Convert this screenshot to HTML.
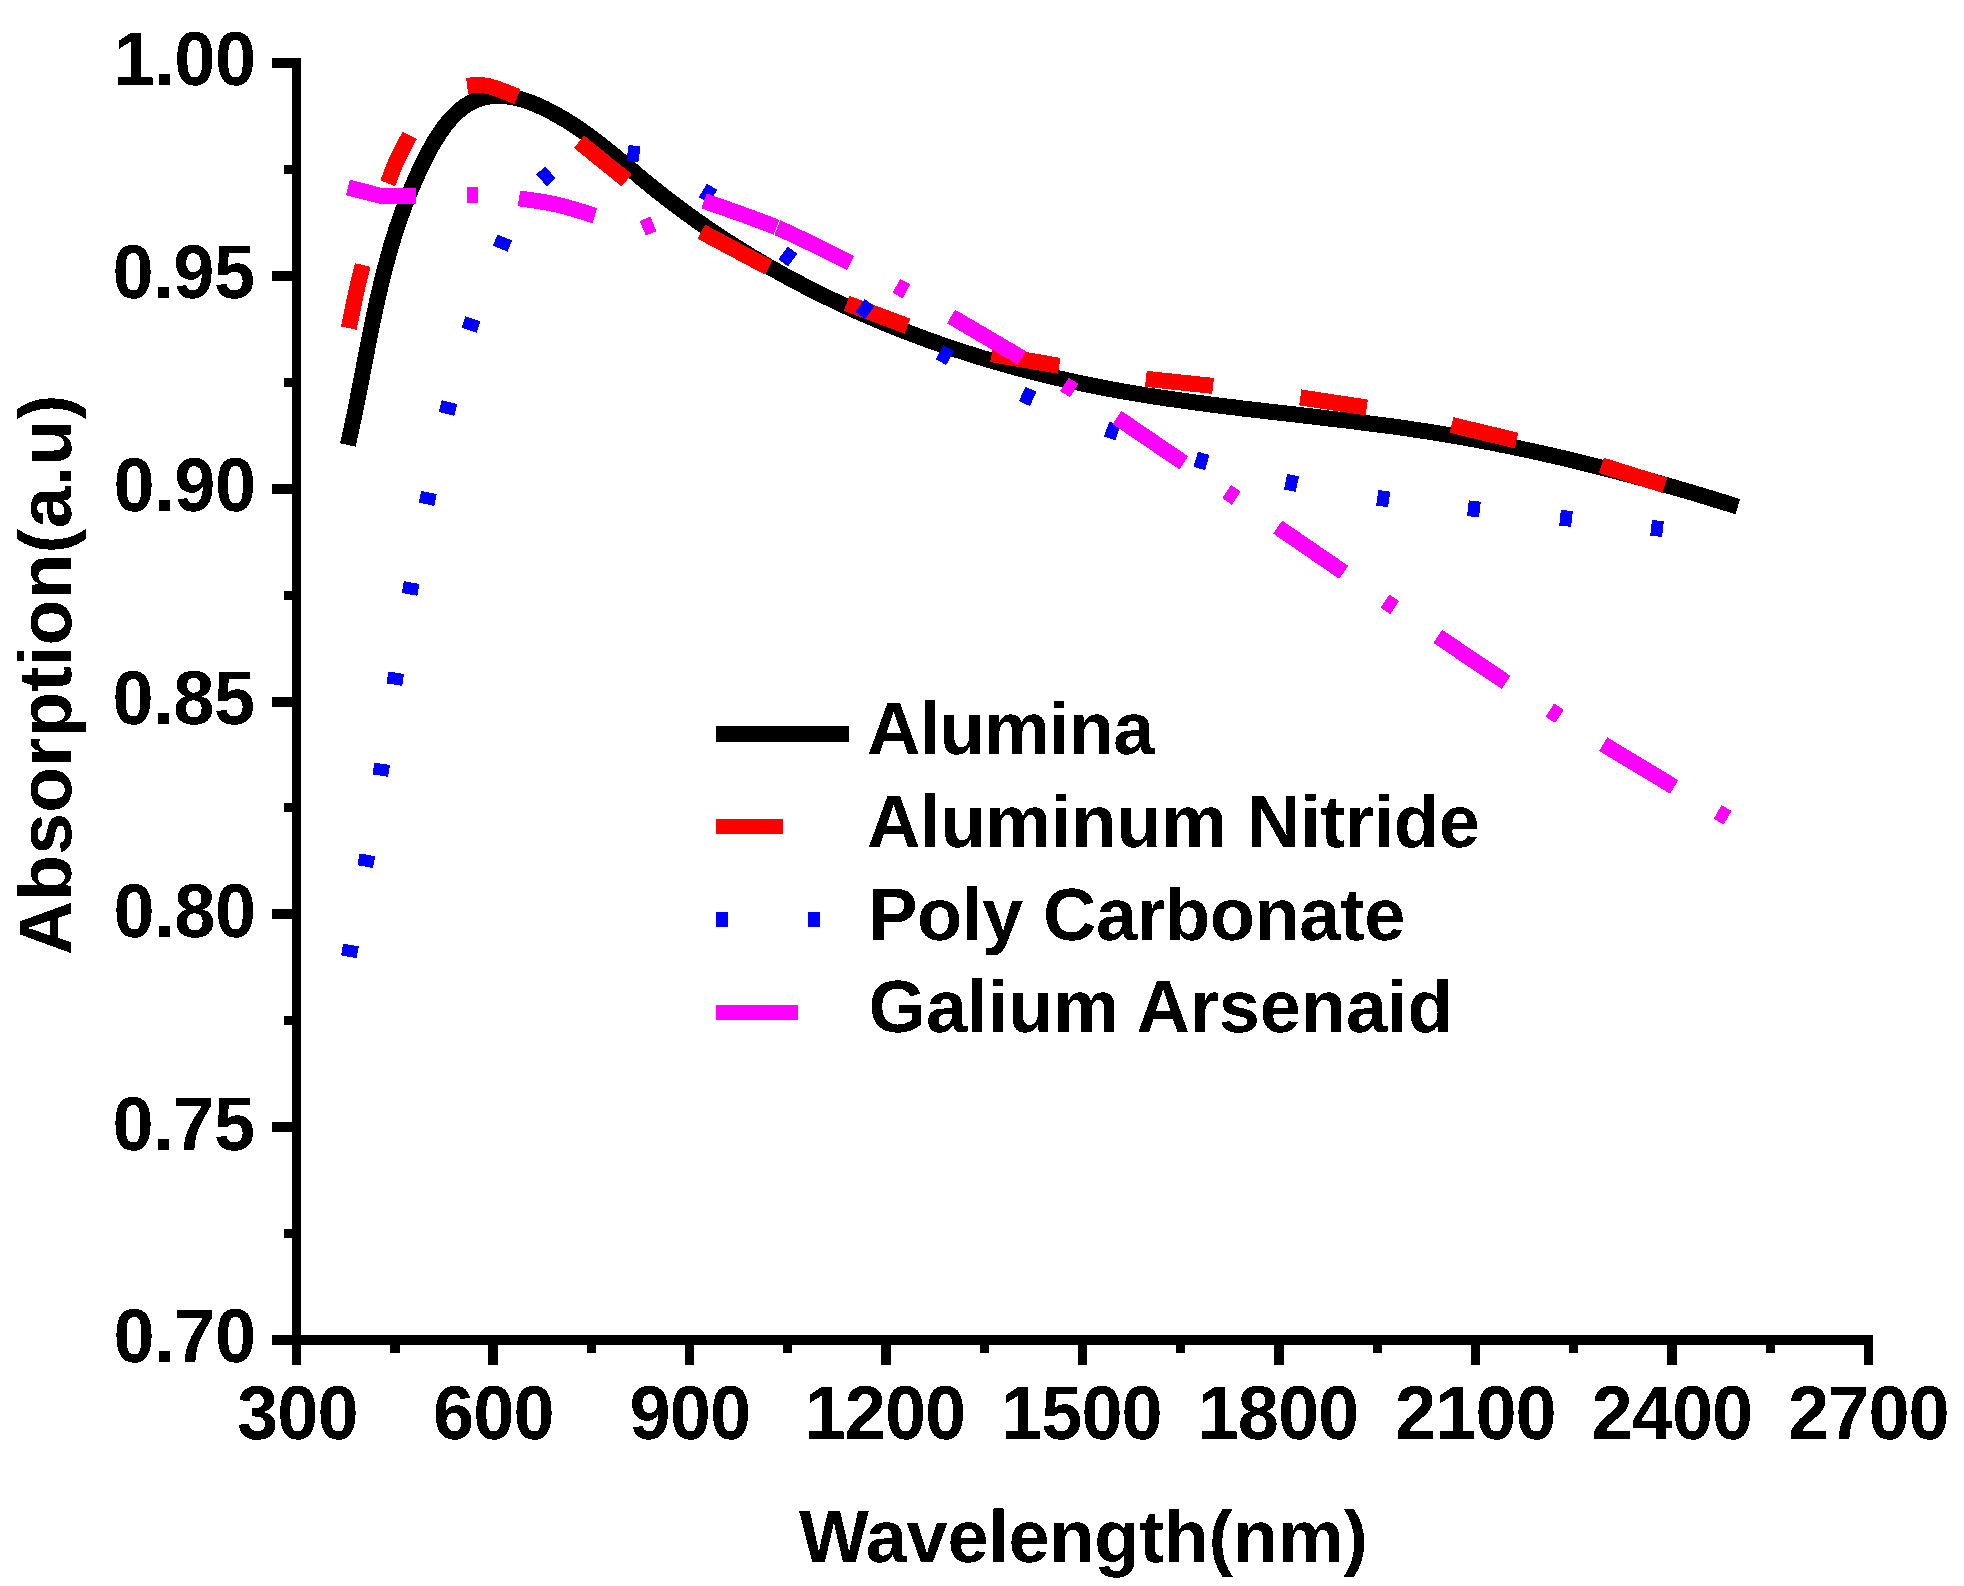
<!DOCTYPE html>
<html lang="en">
<head>
<meta charset="utf-8">
<title>Absorption vs Wavelength</title>
<style>
html,body{margin:0;padding:0;background:#fff;}
body{width:1964px;height:1586px;overflow:hidden;}
svg{display:block;}
text{fill:#000;}
</style>
</head>
<body>
<svg width="1964" height="1586" viewBox="0 0 1964 1586" shape-rendering="crispEdges" text-rendering="geometricPrecision">
<defs>
<filter id="crisp" x="-5%" y="-5%" width="110%" height="110%" color-interpolation-filters="sRGB">
<feComponentTransfer><feFuncA type="discrete" tableValues="0 1"/></feComponentTransfer>
</filter>
</defs>
<rect x="0" y="0" width="1964" height="1586" fill="#fff"/>
<rect x="292.0" y="58.0" width="9.0" height="1307.0" fill="#000"/>
<rect x="272.0" y="1335.0" width="1601.0" height="10.0" fill="#000"/>
<rect x="272.0" y="58.0" width="20.5" height="10.0" fill="#000"/>
<rect x="284.0" y="164.9" width="8.5" height="9.0" fill="#000"/>
<rect x="272.0" y="270.8" width="20.5" height="10.0" fill="#000"/>
<rect x="284.0" y="377.7" width="8.5" height="9.0" fill="#000"/>
<rect x="272.0" y="483.7" width="20.5" height="10.0" fill="#000"/>
<rect x="284.0" y="590.6" width="8.5" height="9.0" fill="#000"/>
<rect x="272.0" y="696.5" width="20.5" height="10.0" fill="#000"/>
<rect x="284.0" y="803.4" width="8.5" height="9.0" fill="#000"/>
<rect x="272.0" y="909.3" width="20.5" height="10.0" fill="#000"/>
<rect x="284.0" y="1016.2" width="8.5" height="9.0" fill="#000"/>
<rect x="272.0" y="1122.2" width="20.5" height="10.0" fill="#000"/>
<rect x="284.0" y="1229.1" width="8.5" height="9.0" fill="#000"/>
<rect x="272.0" y="1335.0" width="20.5" height="10.0" fill="#000"/>
<rect x="291.8" y="1344.0" width="9.4" height="21.0" fill="#000"/>
<rect x="390.1" y="1344.0" width="9.4" height="9.0" fill="#000"/>
<rect x="488.3" y="1344.0" width="9.4" height="21.0" fill="#000"/>
<rect x="586.5" y="1344.0" width="9.4" height="9.0" fill="#000"/>
<rect x="684.8" y="1344.0" width="9.4" height="21.0" fill="#000"/>
<rect x="783.0" y="1344.0" width="9.4" height="9.0" fill="#000"/>
<rect x="881.3" y="1344.0" width="9.4" height="21.0" fill="#000"/>
<rect x="979.5" y="1344.0" width="9.4" height="9.0" fill="#000"/>
<rect x="1077.8" y="1344.0" width="9.4" height="21.0" fill="#000"/>
<rect x="1176.0" y="1344.0" width="9.4" height="9.0" fill="#000"/>
<rect x="1274.3" y="1344.0" width="9.4" height="21.0" fill="#000"/>
<rect x="1372.5" y="1344.0" width="9.4" height="9.0" fill="#000"/>
<rect x="1470.8" y="1344.0" width="9.4" height="21.0" fill="#000"/>
<rect x="1569.0" y="1344.0" width="9.4" height="9.0" fill="#000"/>
<rect x="1667.3" y="1344.0" width="9.4" height="21.0" fill="#000"/>
<rect x="1765.5" y="1344.0" width="9.4" height="9.0" fill="#000"/>
<rect x="1863.8" y="1344.0" width="9.4" height="21.0" fill="#000"/>
<path d="M347.9,445.0 L349.6,437.1 L351.4,429.2 L353.0,421.3 L354.7,413.5 L356.3,405.6 L357.8,397.8 L359.3,390.0 L360.9,382.3 L362.3,374.5 L363.8,366.8 L365.3,359.0 L366.8,351.3 L368.3,343.6 L369.8,336.0 L371.4,328.3 L372.9,320.7 L374.5,313.0 L376.2,305.4 L377.8,297.8 L379.6,290.3 L381.4,282.7 L383.2,275.1 L385.2,267.6 L387.2,260.1 L389.3,252.5 L391.4,245.0 L393.7,237.5 L396.1,230.0 L398.6,222.6 L401.2,215.1 L403.9,207.7 L406.7,200.2 L409.7,192.8 L412.8,185.3 L416.0,177.9 L419.4,170.5 L422.9,163.1 L426.6,155.7 L430.5,148.4 L434.6,141.2 L439.0,134.3 L443.5,127.7 L448.4,121.5 L453.6,115.7 L459.1,110.6 L464.9,106.1 L471.2,102.3 L477.8,99.4 L484.7,97.3 L491.9,96.1 L499.3,95.7 L506.7,96.3 L514.3,97.6 L521.9,99.5 L529.5,102.0 L537.0,105.0 L544.4,108.4 L551.7,112.1 L558.7,116.0 L565.7,120.0 L572.4,124.3 L579.1,128.7 L585.6,133.3 L592.0,137.9 L598.3,142.7 L604.5,147.6 L610.7,152.6 L616.8,157.6 L622.9,162.7 L628.9,167.7 L635.0,172.8 L641.0,177.9 L647.1,182.9 L653.2,187.9 L659.4,192.8 L665.6,197.7 L671.9,202.5 L678.2,207.2 L684.5,211.9 L690.9,216.5 L697.3,221.1 L703.8,225.6 L710.3,230.1 L716.8,234.5 L723.4,238.8 L730.0,243.1 L736.7,247.3 L743.4,251.5 L750.1,255.6 L756.8,259.6 L763.6,263.6 L770.5,267.6 L777.3,271.4 L784.2,275.3 L791.2,279.0 L798.1,282.7 L805.1,286.4 L812.2,290.0 L819.2,293.5 L826.3,297.0 L833.4,300.4 L840.5,303.8 L847.7,307.1 L854.9,310.4 L862.1,313.6 L869.4,316.7 L876.7,319.8 L884.0,322.9 L891.3,325.9 L898.6,328.8 L906.0,331.7 L913.4,334.5 L920.8,337.3 L928.2,340.0 L935.7,342.6 L943.1,345.2 L950.6,347.8 L958.1,350.3 L965.7,352.7 L973.2,355.1 L980.8,357.5 L988.3,359.8 L995.9,362.0 L1003.5,364.2 L1011.2,366.3 L1018.8,368.4 L1026.4,370.4 L1034.1,372.4 L1041.8,374.3 L1049.4,376.2 L1057.1,378.0 L1064.8,379.7 L1072.6,381.5 L1080.3,383.1 L1088.0,384.7 L1095.7,386.3 L1103.5,387.8 L1111.2,389.3 L1119.0,390.7 L1126.7,392.0 L1134.5,393.4 L1142.3,394.6 L1150.0,395.9 L1157.8,397.1 L1165.6,398.3 L1173.4,399.4 L1181.2,400.5 L1189.0,401.6 L1196.8,402.7 L1204.6,403.7 L1212.4,404.7 L1220.2,405.7 L1228.0,406.7 L1235.9,407.6 L1243.7,408.6 L1251.5,409.5 L1259.3,410.4 L1267.1,411.3 L1275.0,412.2 L1282.8,413.1 L1290.6,414.0 L1298.5,414.9 L1306.3,415.8 L1314.1,416.7 L1321.9,417.7 L1329.8,418.6 L1337.6,419.5 L1345.4,420.4 L1353.2,421.4 L1361.1,422.4 L1368.9,423.4 L1376.7,424.4 L1384.5,425.4 L1392.3,426.4 L1400.1,427.5 L1407.9,428.6 L1415.7,429.8 L1423.5,430.9 L1431.3,432.1 L1439.1,433.4 L1446.9,434.7 L1454.7,436.0 L1462.5,437.3 L1470.2,438.7 L1478.0,440.2 L1485.7,441.6 L1493.5,443.1 L1501.2,444.7 L1509.0,446.2 L1516.7,447.8 L1524.5,449.5 L1532.2,451.1 L1539.9,452.8 L1547.6,454.6 L1555.3,456.3 L1563.0,458.1 L1570.7,459.9 L1578.4,461.8 L1586.1,463.7 L1593.7,465.6 L1601.4,467.5 L1609.0,469.5 L1616.7,471.5 L1624.3,473.5 L1632.0,475.6 L1639.6,477.6 L1647.2,479.7 L1654.8,481.9 L1662.4,484.0 L1670.0,486.2 L1677.5,488.4 L1685.1,490.6 L1692.7,492.8 L1700.2,495.1 L1707.7,497.4 L1715.3,499.7 L1722.8,502.0 L1730.3,504.3 L1737.8,506.7" fill="none" stroke="#000" stroke-width="16" stroke-linejoin="round"/>
<path d="M348.8,328.1 C350.0,322.4 353.5,304.6 355.8,294.1 C358.1,283.6 361.6,269.9 362.7,265.0" fill="none" stroke="#ff0000" stroke-width="16"/>
<path d="M387.8,183.3 C389.2,179.8 392.4,170.1 396.0,162.1 C399.6,154.1 407.4,139.8 409.7,135.3" fill="none" stroke="#ff0000" stroke-width="16"/>
<path d="M467.1,86.0 C468.8,85.8 473.6,84.8 477.2,84.8 C480.8,84.8 484.6,85.4 488.4,86.2 C492.2,87.0 495.1,88.0 499.9,89.8 C504.7,91.5 514.5,95.5 517.4,96.7" fill="none" stroke="#ff0000" stroke-width="16"/>
<path d="M579,141.7 L626.7,180.3" fill="none" stroke="#ff0000" stroke-width="16"/>
<path d="M701.3,231.7 L768.7,267.6" fill="none" stroke="#ff0000" stroke-width="16"/>
<path d="M846.6,303.3 L907.5,326.1" fill="none" stroke="#ff0000" stroke-width="16"/>
<path d="M991.6,354.2 L1059.2,365.8" fill="none" stroke="#ff0000" stroke-width="16"/>
<path d="M1145.9,378.8 L1213.1,385.9" fill="none" stroke="#ff0000" stroke-width="16"/>
<path d="M1300.3,397.4 L1366.7,407.5" fill="none" stroke="#ff0000" stroke-width="16"/>
<path d="M1451.5,425 L1516.5,440.5" fill="none" stroke="#ff0000" stroke-width="16"/>
<path d="M1601.4,465.3 L1664.8,485.3" fill="none" stroke="#ff0000" stroke-width="16"/>
<rect x="-6.0" y="-7.9" width="12" height="15.8" fill="#0000ff" transform="translate(349.9,950.9) rotate(-79.7)"/>
<rect x="-6.0" y="-7.9" width="12" height="15.8" fill="#0000ff" transform="translate(366.3,860.7) rotate(-80.2)"/>
<rect x="-6.0" y="-7.9" width="12" height="15.8" fill="#0000ff" transform="translate(381.2,769.7) rotate(-80.9)"/>
<rect x="-6.0" y="-7.9" width="12" height="15.8" fill="#0000ff" transform="translate(395.3,678.7) rotate(-80.8)"/>
<rect x="-6.0" y="-7.9" width="12" height="15.8" fill="#0000ff" transform="translate(410.6,588.5) rotate(-79.8)"/>
<rect x="-6.0" y="-7.9" width="12" height="15.8" fill="#0000ff" transform="translate(427.7,498.4) rotate(-78.3)"/>
<rect x="-6.0" y="-7.9" width="12" height="15.8" fill="#0000ff" transform="translate(448.0,408.0) rotate(-76.0)"/>
<rect x="-6.0" y="-7.9" width="12" height="15.8" fill="#0000ff" transform="translate(471.1,324.6) rotate(-71.7)"/>
<rect x="-6.0" y="-7.9" width="12" height="15.8" fill="#0000ff" transform="translate(502.5,243.1) rotate(-68.6)"/>
<rect x="-6.0" y="-7.9" width="12" height="15.8" fill="#0000ff" transform="translate(545.9,176.3) rotate(-43.0)"/>
<rect x="-6.0" y="-7.9" width="12" height="15.8" fill="#0000ff" transform="translate(633.5,153.5) rotate(8.4)"/>
<rect x="-6.0" y="-7.9" width="12" height="15.8" fill="#0000ff" transform="translate(708.0,193.5) rotate(31.0)"/>
<rect x="-6.0" y="-7.9" width="12" height="15.8" fill="#0000ff" transform="translate(787.9,256.5) rotate(36.4)"/>
<rect x="-6.0" y="-7.9" width="12" height="15.8" fill="#0000ff" transform="translate(864.9,309.0) rotate(36.6)"/>
<rect x="-6.0" y="-7.9" width="12" height="15.8" fill="#0000ff" transform="translate(944.8,355.2) rotate(29.7)"/>
<rect x="-6.0" y="-7.9" width="12" height="15.8" fill="#0000ff" transform="translate(1027.7,396.4) rotate(24.3)"/>
<rect x="-6.0" y="-7.9" width="12" height="15.8" fill="#0000ff" transform="translate(1112.3,431.0) rotate(20.4)"/>
<rect x="-6.0" y="-7.9" width="12" height="15.8" fill="#0000ff" transform="translate(1201.5,460.9) rotate(16.2)"/>
<rect x="-6.0" y="-7.9" width="12" height="15.8" fill="#0000ff" transform="translate(1291.5,482.9) rotate(11.7)"/>
<rect x="-6.0" y="-7.9" width="12" height="15.8" fill="#0000ff" transform="translate(1383.2,498.6) rotate(8.1)"/>
<rect x="-6.0" y="-7.9" width="12" height="15.8" fill="#0000ff" transform="translate(1473.9,508.9) rotate(6.2)"/>
<rect x="-6.0" y="-7.9" width="12" height="15.8" fill="#0000ff" transform="translate(1566.0,518.3) rotate(6.1)"/>
<rect x="-6.0" y="-7.9" width="12" height="15.8" fill="#0000ff" transform="translate(1657.0,528.5) rotate(6.4)"/>
<path d="M348,187.5 L381.5,195.9 L416,195.9" fill="none" stroke="#ff00ff" stroke-width="15.8"/>
<path d="M519.0,198.3 C525.2,199.3 543.5,201.5 556.1,204.4 C568.7,207.3 588.3,213.7 594.8,215.6" fill="none" stroke="#ff00ff" stroke-width="15.8"/>
<path d="M704.0,200.9 C716.2,205.4 753.1,217.5 777.5,227.8 C801.9,238.2 838.3,257.1 850.5,263.0" fill="none" stroke="#ff00ff" stroke-width="15.8"/>
<path d="M951.1,316.5 L1021.8,357.9" fill="none" stroke="#ff00ff" stroke-width="15.8"/>
<path d="M1117,417.5 L1183.8,462.9" fill="none" stroke="#ff00ff" stroke-width="15.8"/>
<path d="M1277.7,527.1 L1343.7,572.3" fill="none" stroke="#ff00ff" stroke-width="15.8"/>
<path d="M1437.8,636.4 L1506.1,682.4" fill="none" stroke="#ff00ff" stroke-width="15.8"/>
<path d="M1603.2,744.1 L1674.1,786.9" fill="none" stroke="#ff00ff" stroke-width="15.8"/>
<line x1="780.3" y1="219.2" x2="773.4" y2="236.2" stroke="#fff" stroke-width="1"/>
<rect x="-5.75" y="-7.9" width="11.5" height="15.8" fill="#ff00ff" transform="translate(472.6,194.6) rotate(0.0)"/>
<rect x="-5.75" y="-7.9" width="11.5" height="15.8" fill="#ff00ff" transform="translate(648.1,226.0) rotate(-22.0)"/>
<rect x="-5.75" y="-7.9" width="11.5" height="15.8" fill="#ff00ff" transform="translate(901.4,288.6) rotate(28.0)"/>
<rect x="-5.75" y="-7.9" width="11.5" height="15.8" fill="#ff00ff" transform="translate(1069.3,387.5) rotate(33.0)"/>
<rect x="-5.75" y="-7.9" width="11.5" height="15.8" fill="#ff00ff" transform="translate(1231.4,494.9) rotate(34.0)"/>
<rect x="-5.75" y="-7.9" width="11.5" height="15.8" fill="#ff00ff" transform="translate(1389.8,604.3) rotate(34.0)"/>
<rect x="-5.75" y="-7.9" width="11.5" height="15.8" fill="#ff00ff" transform="translate(1554.7,713.2) rotate(33.0)"/>
<rect x="-5.75" y="-7.9" width="11.5" height="15.8" fill="#ff00ff" transform="translate(1722.6,814.8) rotate(30.0)"/>
<rect x="716.0" y="726.0" width="133.0" height="16.0" fill="#000"/>
<rect x="716.0" y="819.0" width="67.0" height="15.0" fill="#ff0000"/>
<rect x="716.0" y="912.0" width="12.0" height="15.0" fill="#0000ff"/>
<rect x="808.0" y="912.0" width="12.0" height="15.0" fill="#0000ff"/>
<rect x="716.0" y="1004.5" width="82.0" height="15.0" fill="#ff00ff"/>
<g filter="url(#crisp)">
<text transform="translate(113.40,85.4) scale(1,1.03)" font-size="74" letter-spacing="-0.400" font-family="Liberation Sans, Arial, Helvetica, sans-serif" font-weight="700">1.00</text>
<text transform="translate(112.40,298.2) scale(1,1.03)" font-size="74" letter-spacing="-0.400" font-family="Liberation Sans, Arial, Helvetica, sans-serif" font-weight="700">0.95</text>
<text transform="translate(113.40,511.1) scale(1,1.03)" font-size="74" letter-spacing="-0.400" font-family="Liberation Sans, Arial, Helvetica, sans-serif" font-weight="700">0.90</text>
<text transform="translate(112.40,723.9) scale(1,1.03)" font-size="74" letter-spacing="-0.400" font-family="Liberation Sans, Arial, Helvetica, sans-serif" font-weight="700">0.85</text>
<text transform="translate(113.40,936.7) scale(1,1.03)" font-size="74" letter-spacing="-0.400" font-family="Liberation Sans, Arial, Helvetica, sans-serif" font-weight="700">0.80</text>
<text transform="translate(112.40,1149.6) scale(1,1.03)" font-size="74" letter-spacing="-0.400" font-family="Liberation Sans, Arial, Helvetica, sans-serif" font-weight="700">0.75</text>
<text transform="translate(113.40,1362.4) scale(1,1.03)" font-size="74" letter-spacing="-0.400" font-family="Liberation Sans, Arial, Helvetica, sans-serif" font-weight="700">0.70</text>
<text transform="translate(237.10,1439.2) scale(1,1.03)" font-size="74" letter-spacing="-1.000" font-family="Liberation Sans, Arial, Helvetica, sans-serif" font-weight="700">300</text>
<text transform="translate(433.10,1439.2) scale(1,1.03)" font-size="74" letter-spacing="-1.000" font-family="Liberation Sans, Arial, Helvetica, sans-serif" font-weight="700">600</text>
<text transform="translate(629.60,1439.2) scale(1,1.03)" font-size="74" letter-spacing="-1.000" font-family="Liberation Sans, Arial, Helvetica, sans-serif" font-weight="700">900</text>
<text transform="translate(804.60,1439.2) scale(1,1.03)" font-size="74" letter-spacing="-1.000" font-family="Liberation Sans, Arial, Helvetica, sans-serif" font-weight="700">1200</text>
<text transform="translate(1001.10,1439.2) scale(1,1.03)" font-size="74" letter-spacing="-1.000" font-family="Liberation Sans, Arial, Helvetica, sans-serif" font-weight="700">1500</text>
<text transform="translate(1197.60,1439.2) scale(1,1.03)" font-size="74" letter-spacing="-1.000" font-family="Liberation Sans, Arial, Helvetica, sans-serif" font-weight="700">1800</text>
<text transform="translate(1395.10,1439.2) scale(1,1.03)" font-size="74" letter-spacing="-1.000" font-family="Liberation Sans, Arial, Helvetica, sans-serif" font-weight="700">2100</text>
<text transform="translate(1591.60,1439.2) scale(1,1.03)" font-size="74" letter-spacing="-1.000" font-family="Liberation Sans, Arial, Helvetica, sans-serif" font-weight="700">2400</text>
<text transform="translate(1788.10,1439.2) scale(1,1.03)" font-size="74" letter-spacing="-1.000" font-family="Liberation Sans, Arial, Helvetica, sans-serif" font-weight="700">2700</text>
<text x="798.90" y="1562.0" font-size="74" letter-spacing="-0.300" font-family="Liberation Sans, Arial, Helvetica, sans-serif" font-weight="700">Wavelength(nm)</text>
<text transform="translate(71,955.0) rotate(-90)" font-size="75" letter-spacing="0.157" font-family="Liberation Sans, Arial, Helvetica, sans-serif" font-weight="700">Absorption(a.u)</text>
<text x="866.90" y="753.5" font-size="74" letter-spacing="-0.733" font-family="Liberation Sans, Arial, Helvetica, sans-serif" font-weight="700">Alumina</text>
<text x="866.90" y="846.5" font-size="74" letter-spacing="-0.247" font-family="Liberation Sans, Arial, Helvetica, sans-serif" font-weight="700">Aluminum Nitride</text>
<text x="868.20" y="939.5" font-size="74" letter-spacing="-0.423" font-family="Liberation Sans, Arial, Helvetica, sans-serif" font-weight="700">Poly Carbonate</text>
<text x="868.50" y="1032.0" font-size="74" letter-spacing="-0.079" font-family="Liberation Sans, Arial, Helvetica, sans-serif" font-weight="700">Galium Arsenaid</text>
</g>
</svg>
</body>
</html>
